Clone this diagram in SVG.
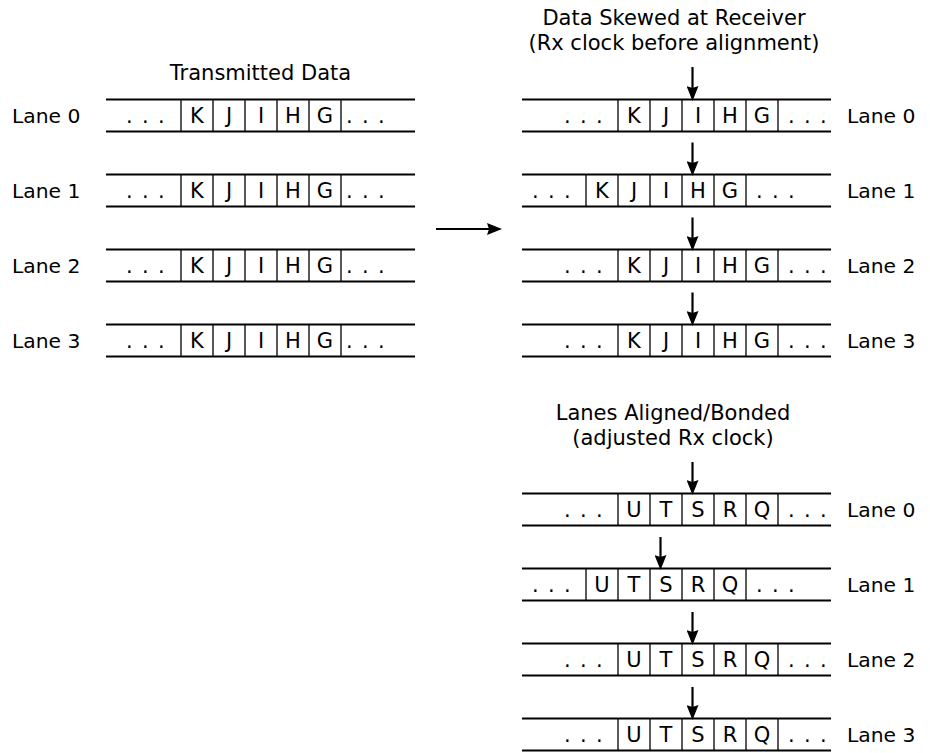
<svg xmlns="http://www.w3.org/2000/svg" width="930" height="753" viewBox="0 0 930 753">
<defs>
<style>
text{font-family:"DejaVu Sans","Verdana",sans-serif;font-size:21px;fill:#000}
.lbl{font-size:20.3px}
.c{text-anchor:middle}
.dots{text-anchor:middle;letter-spacing:1.3px}
.rail{stroke:#000;stroke-width:2;fill:none}
.div{stroke:#000;stroke-width:1.3;fill:none}
.arr{stroke:#000;stroke-width:2.2;fill:none;marker-end:url(#ah)}
</style>
<marker id="ah" viewBox="0 0 15 12" refX="7" refY="6" markerWidth="15" markerHeight="12" markerUnits="userSpaceOnUse" orient="auto">
<path d="M0,0 L15,6 L0,12 L2,6 z" fill="#000"/>
</marker>
</defs>
<rect width="930" height="753" fill="#fff"/>

<text class="c" x="260.5" y="80">Transmitted Data</text>
<text class="c" x="674" y="25">Data Skewed at Receiver</text>
<text class="c" x="674" y="49.5">(Rx clock before alignment)</text>
<text class="c" x="673" y="420">Lanes Aligned/Bonded</text>
<text class="c" x="673" y="444.5">(adjusted Rx clock)</text>

<!-- Transmitted lanes -->
<g id="tx-lane0">
<text class="lbl" x="12" y="123">Lane 0</text>
<path class="rail" d="M106,99.5H415M106,131.5H415"/>
<path class="div" d="M181,99.5V131.5M213,99.5V131.5M245,99.5V131.5M277,99.5V131.5M309,99.5V131.5M341,99.5V131.5"/>
<text class="dots" x="146" y="123">. . .</text>
<text class="c" x="197" y="123">K</text><text class="c" x="229" y="123">J</text><text class="c" x="261" y="123">I</text><text class="c" x="293" y="123">H</text><text class="c" x="325" y="123">G</text>
<text class="dots" x="366" y="123">. . .</text>
</g>
<g id="tx-lane1">
<text class="lbl" x="12" y="198">Lane 1</text>
<path class="rail" d="M106,174.5H415M106,206.5H415"/>
<path class="div" d="M181,174.5V206.5M213,174.5V206.5M245,174.5V206.5M277,174.5V206.5M309,174.5V206.5M341,174.5V206.5"/>
<text class="dots" x="146" y="198">. . .</text>
<text class="c" x="197" y="198">K</text><text class="c" x="229" y="198">J</text><text class="c" x="261" y="198">I</text><text class="c" x="293" y="198">H</text><text class="c" x="325" y="198">G</text>
<text class="dots" x="366" y="198">. . .</text>
</g>
<g id="tx-lane2">
<text class="lbl" x="12" y="273">Lane 2</text>
<path class="rail" d="M106,249.5H415M106,281.5H415"/>
<path class="div" d="M181,249.5V281.5M213,249.5V281.5M245,249.5V281.5M277,249.5V281.5M309,249.5V281.5M341,249.5V281.5"/>
<text class="dots" x="146" y="273">. . .</text>
<text class="c" x="197" y="273">K</text><text class="c" x="229" y="273">J</text><text class="c" x="261" y="273">I</text><text class="c" x="293" y="273">H</text><text class="c" x="325" y="273">G</text>
<text class="dots" x="366" y="273">. . .</text>
</g>
<g id="tx-lane3">
<text class="lbl" x="12" y="348">Lane 3</text>
<path class="rail" d="M106,324.5H415M106,356.5H415"/>
<path class="div" d="M181,324.5V356.5M213,324.5V356.5M245,324.5V356.5M277,324.5V356.5M309,324.5V356.5M341,324.5V356.5"/>
<text class="dots" x="146" y="348">. . .</text>
<text class="c" x="197" y="348">K</text><text class="c" x="229" y="348">J</text><text class="c" x="261" y="348">I</text><text class="c" x="293" y="348">H</text><text class="c" x="325" y="348">G</text>
<text class="dots" x="366" y="348">. . .</text>
</g>

<!-- Skewed lanes -->
<g id="rx-lane0">
<path class="rail" d="M522,99.5H831M522,131.5H831"/>
<path class="div" d="M618,99.5V131.5M650,99.5V131.5M682,99.5V131.5M714,99.5V131.5M746,99.5V131.5M778,99.5V131.5"/>
<text class="dots" x="584" y="123">. . .</text>
<text class="c" x="634" y="123">K</text><text class="c" x="666" y="123">J</text><text class="c" x="698" y="123">I</text><text class="c" x="730" y="123">H</text><text class="c" x="762" y="123">G</text>
<text class="dots" x="808" y="123">. . .</text>
<text class="lbl" x="847" y="123">Lane 0</text>
</g>
<g id="rx-lane1">
<path class="rail" d="M522,174.5H831M522,206.5H831"/>
<path class="div" d="M586,174.5V206.5M618,174.5V206.5M650,174.5V206.5M682,174.5V206.5M714,174.5V206.5M746,174.5V206.5"/>
<text class="dots" x="552" y="198">. . .</text>
<text class="c" x="602" y="198">K</text><text class="c" x="634" y="198">J</text><text class="c" x="666" y="198">I</text><text class="c" x="698" y="198">H</text><text class="c" x="730" y="198">G</text>
<text class="dots" x="776" y="198">. . .</text>
<text class="lbl" x="847" y="198">Lane 1</text>
</g>
<g id="rx-lane2">
<path class="rail" d="M522,249.5H831M522,281.5H831"/>
<path class="div" d="M618,249.5V281.5M650,249.5V281.5M682,249.5V281.5M714,249.5V281.5M746,249.5V281.5M778,249.5V281.5"/>
<text class="dots" x="584" y="273">. . .</text>
<text class="c" x="634" y="273">K</text><text class="c" x="666" y="273">J</text><text class="c" x="698" y="273">I</text><text class="c" x="730" y="273">H</text><text class="c" x="762" y="273">G</text>
<text class="dots" x="808" y="273">. . .</text>
<text class="lbl" x="847" y="273">Lane 2</text>
</g>
<g id="rx-lane3">
<path class="rail" d="M522,324.5H831M522,356.5H831"/>
<path class="div" d="M618,324.5V356.5M650,324.5V356.5M682,324.5V356.5M714,324.5V356.5M746,324.5V356.5M778,324.5V356.5"/>
<text class="dots" x="584" y="348">. . .</text>
<text class="c" x="634" y="348">K</text><text class="c" x="666" y="348">J</text><text class="c" x="698" y="348">I</text><text class="c" x="730" y="348">H</text><text class="c" x="762" y="348">G</text>
<text class="dots" x="808" y="348">. . .</text>
<text class="lbl" x="847" y="348">Lane 3</text>
</g>

<!-- Aligned lanes -->
<g id="al-lane0">
<path class="rail" d="M522,493.5H831M522,525.5H831"/>
<path class="div" d="M618,493.5V525.5M650,493.5V525.5M682,493.5V525.5M714,493.5V525.5M746,493.5V525.5M778,493.5V525.5"/>
<text class="dots" x="584" y="517">. . .</text>
<text class="c" x="634" y="517">U</text><text class="c" x="666" y="517">T</text><text class="c" x="698" y="517">S</text><text class="c" x="730" y="517">R</text><text class="c" x="762" y="517">Q</text>
<text class="dots" x="808" y="517">. . .</text>
<text class="lbl" x="847" y="517">Lane 0</text>
</g>
<g id="al-lane1">
<path class="rail" d="M522,568.5H831M522,600.5H831"/>
<path class="div" d="M586,568.5V600.5M618,568.5V600.5M650,568.5V600.5M682,568.5V600.5M714,568.5V600.5M746,568.5V600.5"/>
<text class="dots" x="552" y="592">. . .</text>
<text class="c" x="602" y="592">U</text><text class="c" x="634" y="592">T</text><text class="c" x="666" y="592">S</text><text class="c" x="698" y="592">R</text><text class="c" x="730" y="592">Q</text>
<text class="dots" x="776" y="592">. . .</text>
<text class="lbl" x="847" y="592">Lane 1</text>
</g>
<g id="al-lane2">
<path class="rail" d="M522,643.5H831M522,675.5H831"/>
<path class="div" d="M618,643.5V675.5M650,643.5V675.5M682,643.5V675.5M714,643.5V675.5M746,643.5V675.5M778,643.5V675.5"/>
<text class="dots" x="584" y="667">. . .</text>
<text class="c" x="634" y="667">U</text><text class="c" x="666" y="667">T</text><text class="c" x="698" y="667">S</text><text class="c" x="730" y="667">R</text><text class="c" x="762" y="667">Q</text>
<text class="dots" x="808" y="667">. . .</text>
<text class="lbl" x="847" y="667">Lane 2</text>
</g>
<g id="al-lane3">
<path class="rail" d="M522,718.5H831M522,750.5H831"/>
<path class="div" d="M618,718.5V750.5M650,718.5V750.5M682,718.5V750.5M714,718.5V750.5M746,718.5V750.5M778,718.5V750.5"/>
<text class="dots" x="584" y="742">. . .</text>
<text class="c" x="634" y="742">U</text><text class="c" x="666" y="742">T</text><text class="c" x="698" y="742">S</text><text class="c" x="730" y="742">R</text><text class="c" x="762" y="742">Q</text>
<text class="dots" x="808" y="742">. . .</text>
<text class="lbl" x="847" y="742">Lane 3</text>
</g>

<g id="connectors">
<line class="arr" x1="436" y1="229" x2="494" y2="229"/>
<line class="arr" x1="692.5" y1="67" x2="692.5" y2="93"/>
<line class="arr" x1="692.5" y1="142.5" x2="692.5" y2="168"/>
<line class="arr" x1="692.5" y1="217.5" x2="692.5" y2="243"/>
<line class="arr" x1="692.5" y1="292.5" x2="692.5" y2="318"/>
<line class="arr" x1="692.5" y1="462" x2="692.5" y2="487"/>
<line class="arr" x1="660.5" y1="537" x2="660.5" y2="562"/>
<line class="arr" x1="692.5" y1="612" x2="692.5" y2="637"/>
<line class="arr" x1="692.5" y1="687" x2="692.5" y2="712"/>
</g>
</svg>
